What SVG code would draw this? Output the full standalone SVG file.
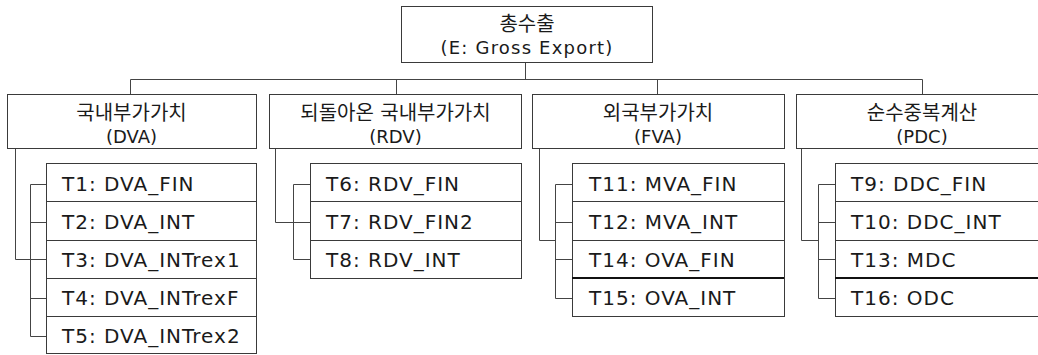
<svg xmlns="http://www.w3.org/2000/svg" width="1038" height="355" viewBox="0 0 1038 355">
<style>
.bx{fill:#fff;stroke:#3a3a3a;stroke-width:1}
.sep{stroke:#3a3a3a;stroke-width:1}
.sepb{stroke:#111;stroke-width:2}
.ln{fill:none;stroke:#444;stroke-width:1}
text{font-family:"DejaVu Sans","Noto Sans CJK KR",sans-serif;fill:#1a1a1a}
.h{font-size:18px;text-anchor:middle}
.t{letter-spacing:1.2px}
.k{font-size:20px}
.c{font-size:20px;letter-spacing:1px}
</style>
<rect width="1038" height="355" fill="#fff"/>
<g id="connectors">
<path class="ln" d="M525.5 62V79.5M130.5 79.5H922.5M130.5 79.5V94M396.5 79.5V94M657.5 79.5V94M922.5 79.5V94"/>
<path class="ln" d="M15.5 148V259.5H46M30.5 184.5V336.5M30.5 184.5H46M30.5 222.5H46M30.5 298.5H46M30.5 336.5H46"/>
<path class="ln" d="M275.5 148V222.5H310M293.5 184.5V259.5M293.5 184.5H310M293.5 259.5H310"/>
<path class="ln" d="M539.5 148V240.5H555.5M555.5 184.5V298.5M555.5 184.5H572M555.5 222.5H572M555.5 259.5H572M555.5 298.5H572"/>
<path class="ln" d="M801.5 148V240.5H818.5M818.5 184.5V298.5M818.5 184.5H835M818.5 222.5H835M818.5 259.5H835M818.5 298.5H835"/>
</g>
<g id="E">
<rect class="bx" x="401.5" y="6.5" width="251" height="56"/>
<text class="h k" x="527" y="31">총수출</text>
<text class="h t" x="527" y="54">(E: Gross Export)</text>
</g>
<g id="DVA">
<rect class="bx" x="7.5" y="94.5" width="249" height="54"/>
<text class="h k" x="131.5" y="120">국내부가가치</text>
<text class="h" x="131.5" y="143">(DVA)</text>
</g>
<g id="RDV">
<rect class="bx" x="269.5" y="94.5" width="252" height="54"/>
<text class="h k" x="395.5" y="120">되돌아온 국내부가가치</text>
<text class="h" x="395.5" y="143">(RDV)</text>
</g>
<g id="FVA">
<rect class="bx" x="532.5" y="94.5" width="252" height="54"/>
<text class="h k" x="658" y="120">외국부가가치</text>
<text class="h" x="658" y="143">(FVA)</text>
</g>
<g id="PDC">
<rect class="bx" x="796.5" y="94.5" width="252" height="54"/>
<text class="h k" x="922" y="120">순수중복계산</text>
<text class="h" x="922" y="143">(PDC)</text>
</g>
<g id="DVA-items">
<rect class="bx" x="46.5" y="163.5" width="210" height="190"/>
<path class="sep" d="M46 201.5H256M46 240.5H256M46 278.5H256M46 316.5H256"/>
<text class="c" x="62" y="191">T1: DVA_FIN</text>
<text class="c" x="62" y="229">T2: DVA_INT</text>
<text class="c" x="62" y="267">T3: DVA_INTrex1</text>
<text class="c" x="62" y="305">T4: DVA_INTrexF</text>
<text class="c" x="62" y="343">T5: DVA_INTrex2</text>
</g>
<g id="RDV-items">
<rect class="bx" x="310.5" y="163.5" width="211" height="115"/>
<path class="sep" d="M310 201.5H521M310 240.5H521"/>
<text class="c" x="326" y="191">T6: RDV_FIN</text>
<text class="c" x="326" y="229">T7: RDV_FIN2</text>
<text class="c" x="326" y="267">T8: RDV_INT</text>
</g>
<g id="FVA-items">
<rect class="bx" x="572.5" y="163.5" width="212" height="153"/>
<path class="sep" d="M572 201.5H784M572 240.5H784"/>
<path class="sepb" d="M572 278H784"/>
<text class="c" x="589" y="191">T11: MVA_FIN</text>
<text class="c" x="589" y="229">T12: MVA_INT</text>
<text class="c" x="589" y="267">T14: OVA_FIN</text>
<text class="c" x="589" y="305">T15: OVA_INT</text>
</g>
<g id="PDC-items">
<rect class="bx" x="835.5" y="163.5" width="213" height="153"/>
<path class="sep" d="M835 201.5H1048M835 240.5H1048"/>
<path class="sepb" d="M835 278H1048"/>
<text class="c" x="851" y="191">T9: DDC_FIN</text>
<text class="c" x="851" y="229">T10: DDC_INT</text>
<text class="c" x="851" y="267">T13: MDC</text>
<text class="c" x="851" y="305">T16: ODC</text>
</g>
</svg>
